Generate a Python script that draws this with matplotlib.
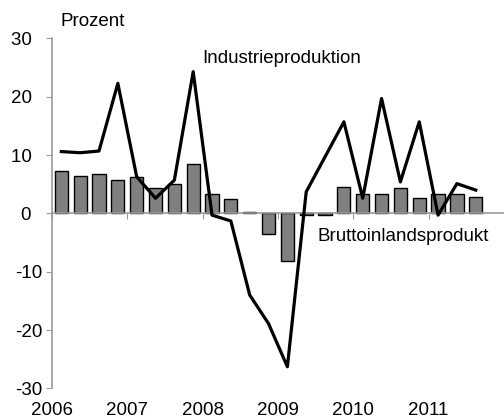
import numpy as np
import matplotlib.pyplot as plt

plt.rcParams['font.family'] = ['Liberation Sans', 'DejaVu Sans']

# Quartalswerte 2006 Q1 bis 2011 Q3, Veränderung in Prozent
bip = [7.2, 6.4, 6.7, 5.7, 6.2, 4.4, 5.1, 8.4, 3.4, 2.5, 0.3, -3.6,
       -8.2, -0.3, -0.2, 4.5, 3.4, 3.4, 4.3, 2.7, 3.4, 3.4, 2.8]
industrie = [10.6, 10.4, 10.7, 22.3, 6.3, 2.6, 5.7, 24.3, -0.3, -1.3, -14.0, -18.9,
             -26.3, 3.7, 9.7, 15.7, 2.6, 19.7, 5.4, 15.7, -0.3, 5.1, 4.0]
jahre = ['2006', '2007', '2008', '2009', '2010', '2011']
yticks = [-30, -20, -10, 0, 10, 20, 30]
ylabels = ['-30', '-20', '-10', '0  ', '10  ', '20  ', '30  ']

x = np.arange(len(bip)) + 0.5

fig = plt.figure(figsize=(5.04, 4.18), dpi=100)
ax = fig.add_axes([0.103, 0.071, 0.897, 0.837])

ax.bar(x, bip, width=0.7, color='#808080', edgecolor='black', linewidth=1, zorder=2)
ax.plot(x, industrie, color='black', linewidth=2.3, zorder=3)

ax.set_xlim(0, 24)
ax.set_ylim(-30, 30)
ax.set_yticks(yticks)
ax.set_yticklabels(ylabels)
ax.tick_params(axis='y', labelsize=13.5, length=4, color='#999999', pad=3)

ax.spines['top'].set_visible(False)
ax.spines['right'].set_visible(False)
ax.spines['left'].set_color('#999999')
ax.spines['bottom'].set_color('#999999')
ax.spines['bottom'].set_position(('data', 0))
ax.spines['left'].set_linewidth(1.2)
ax.spines['bottom'].set_linewidth(1.2)

ax.set_xticks(np.arange(0, 24, 4))
ax.tick_params(axis='x', labelbottom=False, length=4, color='#999999')
for i, j in enumerate(jahre):
    ax.text(i * 4, -0.062, j, transform=ax.get_xaxis_transform(),
            ha='center', va='center', fontsize=13.5)

fig.text(0.12, 0.948, 'Prozent', fontsize=13.5, va='center')
ax.text(8, 26.5, 'Industrieproduktion', fontsize=13.5, va='center')
ax.text(14.1, -4.0, 'Bruttoinlandsprodukt', fontsize=13.5, va='center')

fig.savefig('out.png', dpi=100)
